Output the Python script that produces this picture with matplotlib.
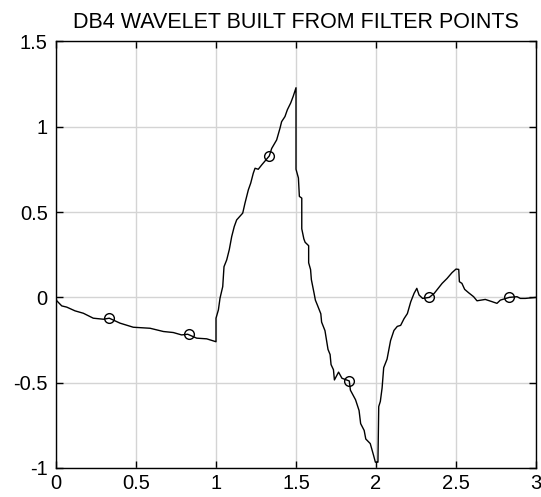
import matplotlib
matplotlib.use("Agg")
import matplotlib.pyplot as plt

plt.rcParams['font.family'] = ['Liberation Sans', 'DejaVu Sans']
plt.rcParams['axes.unicode_minus'] = False

# wavelet curve
x_vals = [0.0, 0.004, 0.036, 0.067, 0.119, 0.171, 0.233, 0.296, 0.333, 0.4, 0.483, 0.588,
          0.671, 0.733, 0.785, 0.823, 0.879, 0.942, 0.983, 1.0,
          1.0, 1.0, 1.015, 1.025, 1.042, 1.05, 1.067, 1.083, 1.098, 1.114, 1.129, 1.167,
          1.181, 1.202, 1.217, 1.233, 1.244, 1.264, 1.286, 1.333, 1.348, 1.379, 1.4, 1.41,
          1.431, 1.446, 1.467, 1.483, 1.5,
          1.5, 1.515, 1.521, 1.536, 1.536, 1.549, 1.557, 1.579, 1.579, 1.591, 1.596, 1.613,
          1.621, 1.634, 1.655, 1.66, 1.681, 1.7, 1.713, 1.719, 1.734, 1.74, 1.766, 1.787,
          1.833, 1.84, 1.872, 1.894, 1.904, 1.926, 1.936, 1.964, 1.985, 1.996, 2.006,
          2.012, 2.017, 2.027, 2.038, 2.048, 2.069, 2.091, 2.112, 2.133, 2.154, 2.175,
          2.196, 2.217, 2.238, 2.255, 2.269, 2.291, 2.333, 2.364, 2.413, 2.444, 2.475,
          2.5, 2.517, 2.521, 2.537, 2.554, 2.579, 2.61, 2.631, 2.683, 2.725, 2.756, 2.777,
          2.833, 2.881, 2.902, 2.933, 3.0]
y_vals = [0.0, -0.019, -0.05, -0.057, -0.079, -0.093, -0.122, -0.128, -0.122, -0.151, -0.175, -0.181,
          -0.2, -0.206, -0.22, -0.216, -0.239, -0.243, -0.255, -0.26,
          -0.253, -0.122, -0.073, -0.005, 0.063, 0.18, 0.22, 0.28, 0.356, 0.415, 0.454, 0.494,
          0.552, 0.63, 0.67, 0.728, 0.757, 0.751, 0.777, 0.829, 0.873, 0.923, 0.992, 1.03,
          1.06, 1.1, 1.14, 1.18, 1.229,
          0.751, 0.70, 0.592, 0.582, 0.402, 0.343, 0.323, 0.303, 0.203, 0.163, 0.104, 0.024,
          -0.016, -0.046, -0.096, -0.145, -0.195, -0.305, -0.335, -0.394, -0.424, -0.484, -0.438, -0.474,
          -0.49, -0.544, -0.6, -0.663, -0.74, -0.78, -0.83, -0.857, -0.927, -0.966, -0.966,
          -0.966, -0.64, -0.61, -0.531, -0.412, -0.362, -0.253, -0.194, -0.17, -0.164, -0.125,
          -0.095, -0.026, 0.024, 0.053, 0.014, -0.006, 0.0, 0.024, 0.082, 0.111, 0.145,
          0.166, 0.164, 0.092, 0.082, 0.047, 0.027, 0.004, -0.02, -0.012, -0.025, -0.035, -0.016,
          0.0, 0.004, -0.006, -0.006, 0.0]

# filter points (circles)
pts_x = [0.333, 0.833, 1.333, 1.833, 2.333, 2.833]
pts_y = [-0.122, -0.216, 0.829, -0.49, 0.0, 0.0]

x_ticks = [0, 0.5, 1, 1.5, 2, 2.5, 3]
x_tick_labels = ['0', '0.5', '1', '1.5', '2', '2.5', '3']
y_ticks = [-1, -0.5, 0, 0.5, 1, 1.5]
y_tick_labels = ['-1', '-0.5', '0', '0.5', '1', '1.5']

fig = plt.figure(figsize=(5.41, 4.97), dpi=100)
ax = fig.add_axes([0.1035, 0.0584, 0.8873, 0.8581])
ax.plot(x_vals, y_vals, color='black', linewidth=1.0)
ax.plot(pts_x, pts_y, 'o', markerfacecolor='none', markeredgecolor='black',
        markersize=7, markeredgewidth=1.0)

ax.set_xlim(0, 3)
ax.set_ylim(-1, 1.5)
ax.set_xticks(x_ticks)
ax.set_xticklabels(x_tick_labels)
ax.set_yticks(y_ticks)
ax.set_yticklabels(y_tick_labels)
ax.grid(True, color='#d4d4d4', linewidth=1.0, linestyle='-')
ax.set_axisbelow(True)
ax.tick_params(direction='in', length=5, width=1, labelsize=14.5, top=True, right=True,
               colors='black')
ax.tick_params(axis='x', pad=4)
ax.tick_params(axis='y', pad=6)
for s in ax.spines.values():
    s.set_color('black')
    s.set_linewidth(1.0)
ax.set_title('DB4 WAVELET BUILT FROM FILTER POINTS', fontsize=15.5, pad=10)

fig.savefig('out.png', dpi=100)
